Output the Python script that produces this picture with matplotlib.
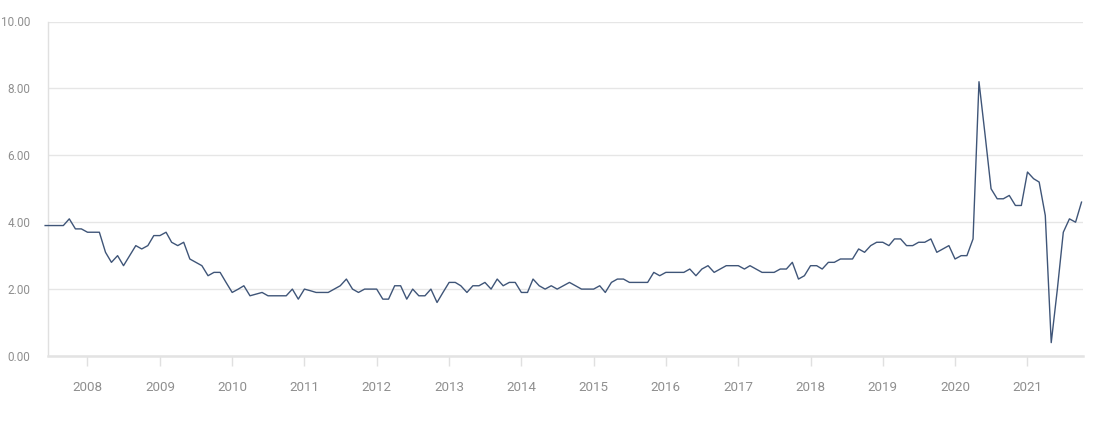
import numpy as np
import pandas as pd
import matplotlib
matplotlib.use("Agg")
import matplotlib.pyplot as plt
import matplotlib.dates as mdates

plt.rcParams['font.family'] = ['Roboto', 'DejaVu Sans']

# Monthly values, June 2007 .. October 2021
start_month = "2007-06-01"
v2007 = [3.9, 3.9, 3.9, 3.9, 4.1, 3.8, 3.8]
v2008 = [3.7, 3.7, 3.7, 3.1, 2.8, 3.0, 2.7, 3.0, 3.3, 3.2, 3.3, 3.6]
v2009 = [3.6, 3.7, 3.4, 3.3, 3.4, 2.9, 2.8, 2.7, 2.4, 2.5, 2.5, 2.2]
v2010 = [1.9, 2.0, 2.1, 1.8, 1.85, 1.9, 1.8, 1.8, 1.8, 1.8, 2.0, 1.7]
v2011 = [2.0, 1.95, 1.9, 1.9, 1.9, 2.0, 2.1, 2.3, 2.0, 1.9, 2.0, 2.0]
v2012 = [2.0, 1.7, 1.7, 2.1, 2.1, 1.7, 2.0, 1.8, 1.8, 2.0, 1.6, 1.9]
v2013 = [2.2, 2.2, 2.1, 1.9, 2.1, 2.1, 2.2, 2.0, 2.3, 2.1, 2.2, 2.2]
v2014 = [1.9, 1.9, 2.3, 2.1, 2.0, 2.1, 2.0, 2.1, 2.2, 2.1, 2.0, 2.0]
v2015 = [2.0, 2.1, 1.9, 2.2, 2.3, 2.3, 2.2, 2.2, 2.2, 2.2, 2.5, 2.4]
v2016 = [2.5, 2.5, 2.5, 2.5, 2.6, 2.4, 2.6, 2.7, 2.5, 2.6, 2.7, 2.7]
v2017 = [2.7, 2.6, 2.7, 2.6, 2.5, 2.5, 2.5, 2.6, 2.6, 2.8, 2.3, 2.4]
v2018 = [2.7, 2.7, 2.6, 2.8, 2.8, 2.9, 2.9, 2.9, 3.2, 3.1, 3.3, 3.4]
v2019 = [3.4, 3.3, 3.5, 3.5, 3.3, 3.3, 3.4, 3.4, 3.5, 3.1, 3.2, 3.3]
v2020 = [2.9, 3.0, 3.0, 3.5, 8.2, 6.6, 5.0, 4.7, 4.7, 4.8, 4.5, 4.5]
v2021 = [5.5, 5.3, 5.2, 4.2, 0.4, 2.0, 3.7, 4.1, 4.0, 4.6]

values = (v2007 + v2008 + v2009 + v2010 + v2011 + v2012 + v2013 + v2014 +
          v2015 + v2016 + v2017 + v2018 + v2019 + v2020 + v2021)
dates = pd.date_range(start_month, periods=len(values), freq="MS")

y_ticks = [0, 2, 4, 6, 8, 10]
x_tick_years = list(range(2008, 2022))

fig = plt.figure(figsize=(11.10, 4.22), dpi=100)
ax = fig.add_axes([48.3 / 1110, 1 - 356 / 422, (1082.7 - 48.3) / 1110, (356 - 21.5) / 422])

ax.plot(dates, values, color="#3f5578", lw=1.0, clip_on=False, zorder=3)

ax.set_ylim(0, 10)
ax.set_xlim(pd.Timestamp("2007-06-17"), pd.Timestamp("2021-10-07"))
ax.set_yticks(y_ticks)
ax.set_yticklabels([f"{t:.2f}" for t in y_ticks])
ax.set_xticks([pd.Timestamp(f"{y}-01-01") for y in x_tick_years])
ax.xaxis.set_major_formatter(mdates.DateFormatter("%Y"))

ax.grid(axis="y", color="#e6e6e6", lw=1.0)
ax.set_axisbelow(True)
for s in ["top", "right"]:
    ax.spines[s].set_visible(False)
ax.spines["left"].set_color("#e0e0e0")
ax.spines["left"].set_linewidth(1.0)
ax.spines["bottom"].set_color("#e3e3e3")
ax.spines["bottom"].set_linewidth(1.8)

ax.tick_params(axis="y", length=0, pad=13, labelsize=8.5, labelcolor="#8f8f8f")
ax.tick_params(axis="x", length=7, width=1, color="#e0e0e0", pad=11,
               labelsize=9.6, labelcolor="#8f8f8f")

fig.savefig("out.png", dpi=100)
